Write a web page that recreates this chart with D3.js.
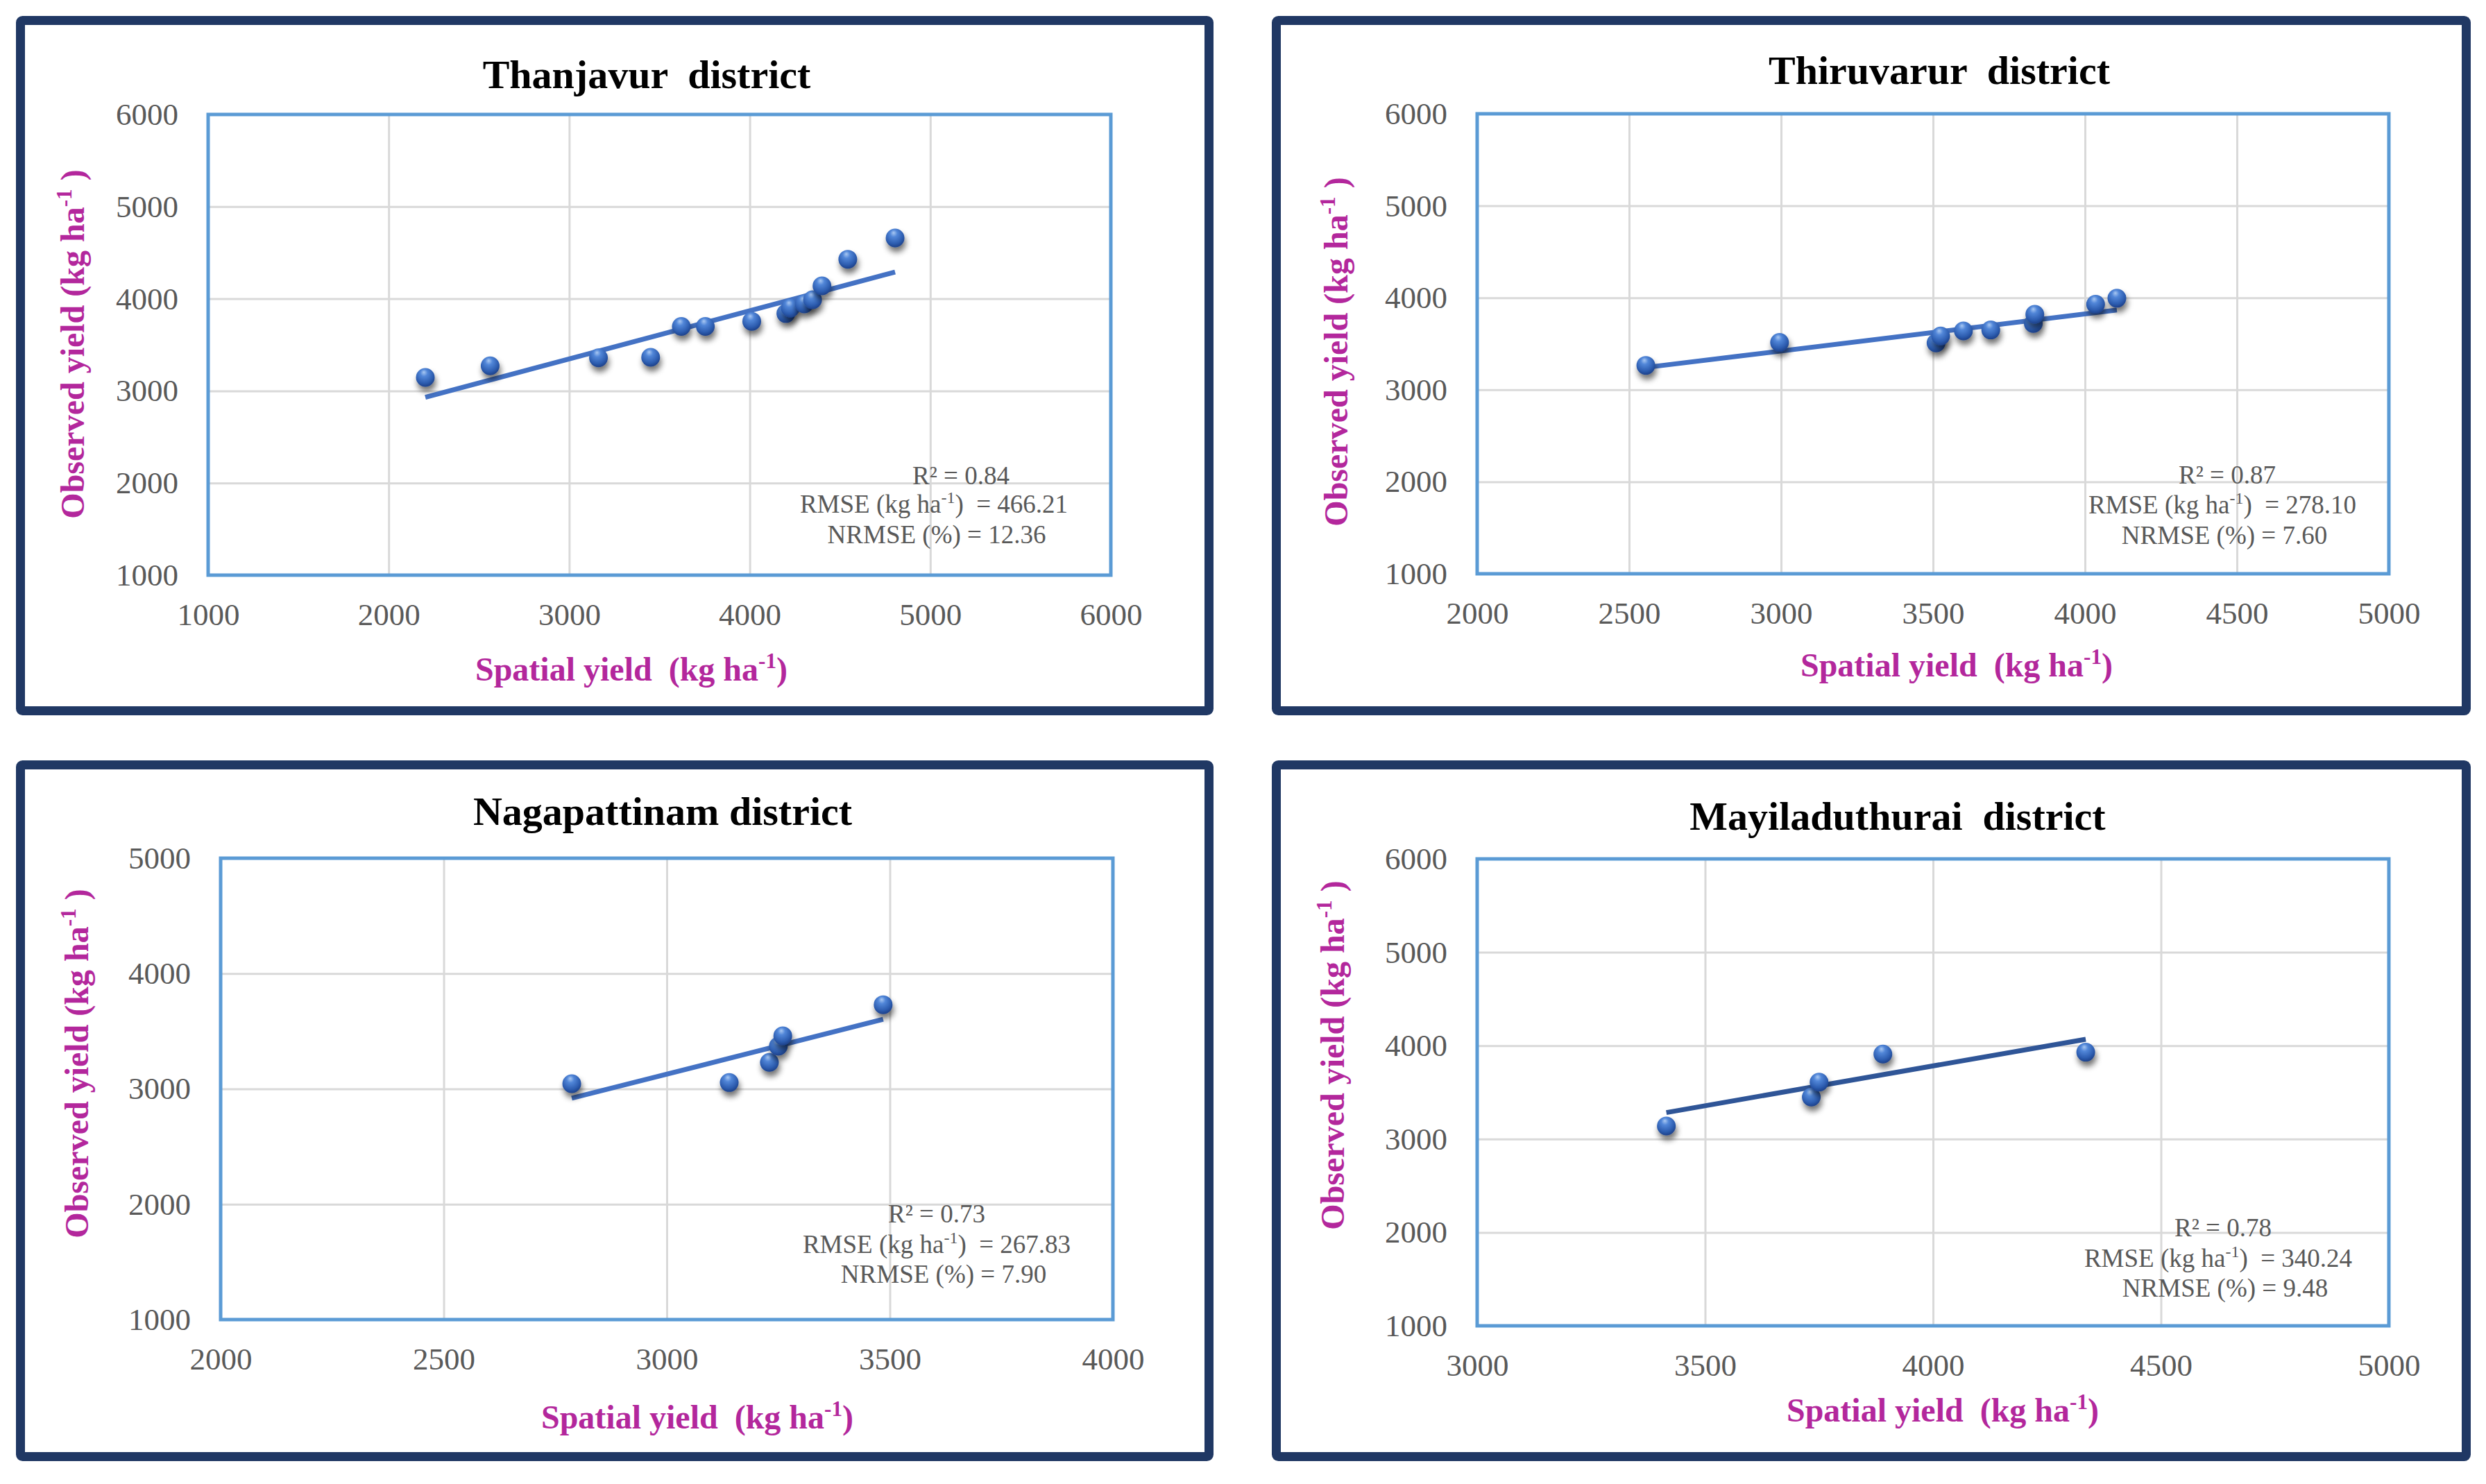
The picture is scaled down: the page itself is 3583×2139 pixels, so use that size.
<!DOCTYPE html>
<html>
<head>
<meta charset="utf-8">
<script src="https://cdn.jsdelivr.net/npm/d3@7/dist/d3.min.js"></script>
<style>
  body { margin: 0; background: #ffffff; }
  svg { display: block; }
  text { font-family: "Liberation Serif", "Times New Roman", serif; white-space: pre; }
</style>
</head>
<body>
<div id="chart"></div>
<script>
// chart data
var titles = ["Thanjavur  district", "Thiruvarur  district", "Nagapattinam district", "Mayiladuthurai  district"];

var thanjavurX = [2203, 2562, 3162, 3451, 3621, 3754, 4011, 4200, 4225, 4302, 4348, 4400, 4543, 4805];
var thanjavurY = [3146, 3272, 3359, 3365, 3699, 3700, 3755, 3840, 3900, 3945, 3990, 4140, 4429, 4660];

var thiruvarurX = [2555, 2995, 3510, 3525, 3600, 3690, 3830, 3835, 4035, 4105];
var thiruvarurY = [3265, 3515, 3510, 3585, 3640, 3650, 3720, 3820, 3930, 3995];

var nagapattinamX = [2787, 3140, 3230, 3250, 3260, 3485];
var nagapattinamY = [3045, 3055, 3230, 3370, 3460, 3730];

var mayiladuthuraiX = [3415, 3733, 3750, 3890, 4335];
var mayiladuthuraiY = [3140, 3450, 3610, 3910, 3930];

var xDomains = [[1000, 6000], [2000, 5000], [2000, 4000], [3000, 5000]];
var yDomains = [[1000, 6000], [1000, 6000], [1000, 5000], [1000, 6000]];
var xSteps = [1000, 500, 500, 500];
var ySteps = [1000, 1000, 1000, 1000];

// linear trend lines (slope, intercept) as drawn in the figure
var trendSlopes = [0.5226, 0.4026, 0.98, 0.853];
var trendIntercepts = [1779, 2214, 188, 371];

var r2Values = ["0.84", "0.87", "0.73", "0.78"];
var rmseValues = ["466.21", "278.10", "267.83", "340.24"];
var nrmseValues = ["12.36", "7.60", "7.90", "9.48"];

// ---------------------------------------------------------------
var W = 3583, H = 2139;
var magenta = "#b3279c";
var grey = "#595959";

var xsAll = [thanjavurX, thiruvarurX, nagapattinamX, mayiladuthuraiX];
var ysAll = [thanjavurY, thiruvarurY, nagapattinamY, mayiladuthuraiY];

// layout of each panel (pixels)
var layout = [
  { frame: [23, 23, 1749, 1031], plot: [300, 165, 1601, 829], title: [932, 127], xlab: [910, 981], ylab: [121, 496],
    stats: [[1385, 698], [1346, 739], [1350, 783]], line: "#4472c4" },
  { frame: [1833, 23, 3561, 1031], plot: [2129, 164, 3443, 827], title: [2795, 121], xlab: [2820, 975], ylab: [1942, 507],
    stats: [[3210, 697], [3203, 740], [3206, 784]], line: "#4472c4" },
  { frame: [23, 1096, 1749, 2106], plot: [318, 1237, 1604, 1902], title: [955, 1189], xlab: [1005, 2059], ylab: [127, 1533],
    stats: [[1350, 1762], [1350, 1806], [1360, 1849]], line: "#4472c4" },
  { frame: [1833, 1096, 3561, 2106], plot: [2129, 1238, 3443, 1911], title: [2735, 1196], xlab: [2800, 2049], ylab: [1937, 1521],
    stats: [[3204, 1782], [3197, 1826], [3207, 1869]], line: "#2f5597" }
];

var svg = d3.select("#chart").append("svg")
  .attr("width", W)
  .attr("height", H);

svg.append("rect").attr("width", W).attr("height", H).attr("fill", "#ffffff");

var defs = svg.append("defs");
var grad = defs.append("radialGradient")
  .attr("id", "ball")
  .attr("cx", "45%").attr("cy", "35%").attr("r", "65%")
  .attr("fx", "42%").attr("fy", "22%");
grad.append("stop").attr("offset", "0%").attr("stop-color", "#a9c8f2");
grad.append("stop").attr("offset", "30%").attr("stop-color", "#5186d8");
grad.append("stop").attr("offset", "75%").attr("stop-color", "#2d5db0");
grad.append("stop").attr("offset", "100%").attr("stop-color", "#1d418a");

var shadow = defs.append("filter").attr("id", "shadow")
  .attr("x", "-60%").attr("y", "-60%").attr("width", "220%").attr("height", "240%");
shadow.append("feGaussianBlur").attr("in", "SourceAlpha").attr("stdDeviation", 4).attr("result", "blur");
shadow.append("feOffset").attr("in", "blur").attr("dx", 2).attr("dy", 7).attr("result", "off");
shadow.append("feComponentTransfer").attr("in", "off").attr("result", "soft")
  .append("feFuncA").attr("type", "linear").attr("slope", 0.55);
var merge = shadow.append("feMerge");
merge.append("feMergeNode").attr("in", "soft");
merge.append("feMergeNode").attr("in", "SourceGraphic");

// write text with a superscript "-1" part
function supText(sel, before, sup, after, size) {
  sel.append("tspan").text(before);
  sel.append("tspan").attr("font-size", size * 0.65).attr("dy", -size * 0.38).text(sup);
  sel.append("tspan").attr("dy", size * 0.38).text(after);
}

for (var i = 0; i < 4; i++) {
  drawPanel(i);
}

function drawPanel(i)
{
  var L = layout[i];
  var f = L.frame, p = L.plot;
  var g = svg.append("g").attr("class", "panel");

  // dark outer frame
  g.append("rect")
    .attr("x", f[0] + 6.5).attr("y", f[1] + 6.5)
    .attr("width", f[2] - f[0] - 13).attr("height", f[3] - f[1] - 13)
    .attr("rx", 3)
    .attr("fill", "#ffffff")
    .attr("stroke", "#203864")
    .attr("stroke-width", 13);

  var x = d3.scaleLinear().domain(xDomains[i]).range([p[0], p[2]]);
  var y = d3.scaleLinear().domain(yDomains[i]).range([p[3], p[1]]);
  var xTicks = d3.range(xDomains[i][0], xDomains[i][1] + 1, xSteps[i]);
  var yTicks = d3.range(yDomains[i][0], yDomains[i][1] + 1, ySteps[i]);

  // gridlines
  g.append("g")
    .attr("transform", "translate(0," + p[3] + ")")
    .call(d3.axisBottom(x).tickValues(xTicks).tickSize(-(p[3] - p[1])).tickFormat(""))
    .call(function(a) {
      a.select(".domain").remove();
      a.selectAll("line").attr("stroke", "#d9d9d9").attr("stroke-width", 3);
    });
  g.append("g")
    .attr("transform", "translate(" + p[0] + ",0)")
    .call(d3.axisLeft(y).tickValues(yTicks).tickSize(-(p[2] - p[0])).tickFormat(""))
    .call(function(a) {
      a.select(".domain").remove();
      a.selectAll("line").attr("stroke", "#d9d9d9").attr("stroke-width", 3);
    });

  // tick labels
  g.append("g")
    .attr("transform", "translate(0," + p[3] + ")")
    .call(d3.axisBottom(x).tickValues(xTicks).tickSize(0).tickPadding(40).tickFormat(d3.format("d")))
    .call(function(a) {
      a.select(".domain").remove();
      a.selectAll("text").attr("font-family", "Liberation Serif").attr("font-size", 45).attr("fill", grey);
    });
  g.append("g")
    .attr("transform", "translate(" + p[0] + ",0)")
    .call(d3.axisLeft(y).tickValues(yTicks).tickSize(0).tickPadding(43).tickFormat(d3.format("d")))
    .call(function(a) {
      a.select(".domain").remove();
      a.selectAll("text").attr("font-family", "Liberation Serif").attr("font-size", 45).attr("fill", grey);
    });

  // plot area border
  g.append("rect")
    .attr("x", p[0]).attr("y", p[1])
    .attr("width", p[2] - p[0]).attr("height", p[3] - p[1])
    .attr("fill", "none")
    .attr("stroke", "#5b9bd5")
    .attr("stroke-width", 5);

  // title
  g.append("text")
    .attr("x", L.title[0]).attr("y", L.title[1])
    .attr("text-anchor", "middle")
    .attr("font-size", 58).attr("font-weight", "bold").attr("fill", "#000000")
    .text(titles[i]);

  // axis titles
  var xl = g.append("text")
    .attr("x", L.xlab[0]).attr("y", L.xlab[1])
    .attr("text-anchor", "middle")
    .attr("font-size", 48).attr("font-weight", "bold").attr("fill", magenta);
  supText(xl, "Spatial yield  (kg ha", "-1", ")", 48);

  var yl = g.append("text")
    .attr("transform", "translate(" + L.ylab[0] + "," + L.ylab[1] + ") rotate(-90)")
    .attr("text-anchor", "middle")
    .attr("font-size", 48).attr("font-weight", "bold").attr("fill", magenta);
  supText(yl, "Observed yield (kg ha", "-1", " )", 48);

  // trend line across the range of the points
  var xs = xsAll[i], ys = ysAll[i];
  var ext = d3.extent(xs);
  var trend = ext.map(function(v) { return [v, trendSlopes[i] * v + trendIntercepts[i]]; });
  g.append("path")
    .datum(trend)
    .attr("d", d3.line().x(function(d) { return x(d[0]); }).y(function(d) { return y(d[1]); }))
    .attr("fill", "none")
    .attr("stroke", L.line)
    .attr("stroke-width", 7);

  // points
  g.append("g")
    .selectAll("circle")
    .data(xs.map(function(v, k) { return [v, ys[k]]; }))
    .enter().append("circle")
    .attr("cx", function(d) { return x(d[0]); })
    .attr("cy", function(d) { return y(d[1]); })
    .attr("r", 13.5)
    .attr("fill", "url(#ball)")
    .attr("filter", "url(#shadow)");

  // statistics
  var st = L.stats;
  g.append("text")
    .attr("x", st[0][0]).attr("y", st[0][1])
    .attr("text-anchor", "middle").attr("font-size", 37).attr("fill", grey)
    .text("R² = " + r2Values[i]);
  var rm = g.append("text")
    .attr("x", st[1][0]).attr("y", st[1][1])
    .attr("text-anchor", "middle").attr("font-size", 37).attr("fill", grey);
  supText(rm, "RMSE (kg ha", "-1", ")  = " + rmseValues[i], 37);
  g.append("text")
    .attr("x", st[2][0]).attr("y", st[2][1])
    .attr("text-anchor", "middle").attr("font-size", 37).attr("fill", grey)
    .text("NRMSE (%) = " + nrmseValues[i]);
}
</script>
</body>
</html>
